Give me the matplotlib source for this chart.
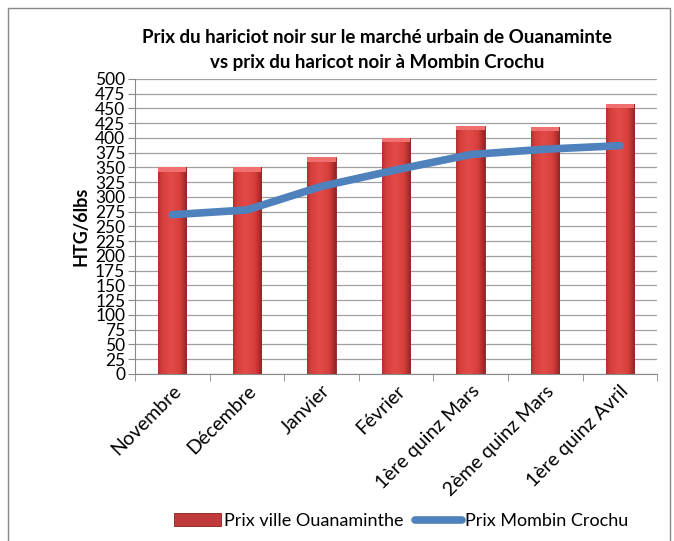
import matplotlib
matplotlib.use("Agg")
import matplotlib.pyplot as plt
import numpy as np
from matplotlib.patches import Rectangle
from matplotlib.colors import LinearSegmentedColormap

categories = ["Novembre", "Décembre", "Janvier", "Février",
              "1ère quinz Mars", "2ème quinz Mars", "1ère quinz Avril"]
prix_ouanaminthe = [350, 350, 367, 400, 421, 418, 457]
prix_mombin = [270, 278, 318, 346, 372, 381, 387]
yticks = list(range(0, 501, 25))

plt.rcParams['font.family'] = ['Lato', 'DejaVu Sans']

fig = plt.figure(figsize=(6.74, 5.41), dpi=100)
ax = fig.add_axes([0.2003, 0.3087, 0.7747, 0.5453])

x = np.arange(len(categories))
width = 0.38
bars = ax.bar(x, prix_ouanaminthe, width, color='#C0393B', edgecolor='#8B2020',
              linewidth=0.6, zorder=2, label="Prix ville Ouanaminthe")

# horizontal shading on each bar
grad = np.linspace(0, 1, 64)
shade = 1 - 0.55 * np.abs(grad - 0.45) ** 1.2 * 2
cmap = LinearSegmentedColormap.from_list("rb", ["#8E2424", "#D63E3C", "#E24A48"])
for b in bars:
    x0, w, h = b.get_x(), b.get_width(), b.get_height()
    im = ax.imshow(shade[np.newaxis, :], extent=[x0, x0 + w, 0, h], aspect='auto',
                   cmap=cmap, vmin=0.45, vmax=1.0, zorder=2.1)
    im.set_clip_path(b)
    # bevel on top
    ax.add_patch(Rectangle((x0, h - 7), w, 7, color='#F07070', zorder=2.2, lw=0))

ax.plot(x, prix_mombin, color='#4F81BD', lw=5.5, solid_capstyle='round',
        solid_joinstyle='round', zorder=3, label="Prix Mombin Crochu")

ax.set_xlim(-0.5, len(categories) - 0.5)
ax.set_ylim(0, 500)
ax.set_yticks(yticks)
ax.set_yticklabels([str(v) for v in yticks], fontsize=12.5)
ax.yaxis.grid(True, color='#A0A0A0', lw=0.9, zorder=0)
ax.set_axisbelow(True)

ax.set_xticks(x)
ax.set_xticklabels(categories, rotation=45, ha='right', rotation_mode='anchor', fontsize=14)
ax.tick_params(axis='x', length=0, pad=6)
for lbl in ax.get_xticklabels():
    lbl.set_x(lbl.get_position()[0])
ax.set_xticks(np.arange(-0.5, len(categories), 1), minor=True)
ax.tick_params(axis='x', which='minor', length=5, color='#888888')
ax.tick_params(axis='y', length=5, color='#888888', pad=2)

for s in ['top', 'right']:
    ax.spines[s].set_visible(False)
ax.spines['left'].set_color('#888888')
ax.spines['bottom'].set_color('#888888')

ax.set_ylabel("HTG/6lbs", fontsize=13, fontweight='bold', labelpad=4)

fig.text(0.56, 0.930, "Prix du hariciot noir sur le marché urbain de Ouanaminte",
         ha='center', va='center', fontsize=13.5, fontweight='bold')
fig.text(0.56, 0.884, "vs prix du haricot noir à Mombin Crochu",
         ha='center', va='center', fontsize=13.5, fontweight='bold')

handles, labels = ax.get_legend_handles_labels()
fig.legend(handles[::-1], labels[::-1], loc='center', bbox_to_anchor=(0.595, 0.037), ncol=2,
           frameon=False, fontsize=13, handlelength=2.6, columnspacing=0.6,
           handletextpad=0.2)

fig.patches.append(Rectangle((0.012, -0.1), 0.982, 1.085, transform=fig.transFigure,
                             fill=False, edgecolor='#888888', lw=1.0))

fig.savefig("out.png", dpi=100)
